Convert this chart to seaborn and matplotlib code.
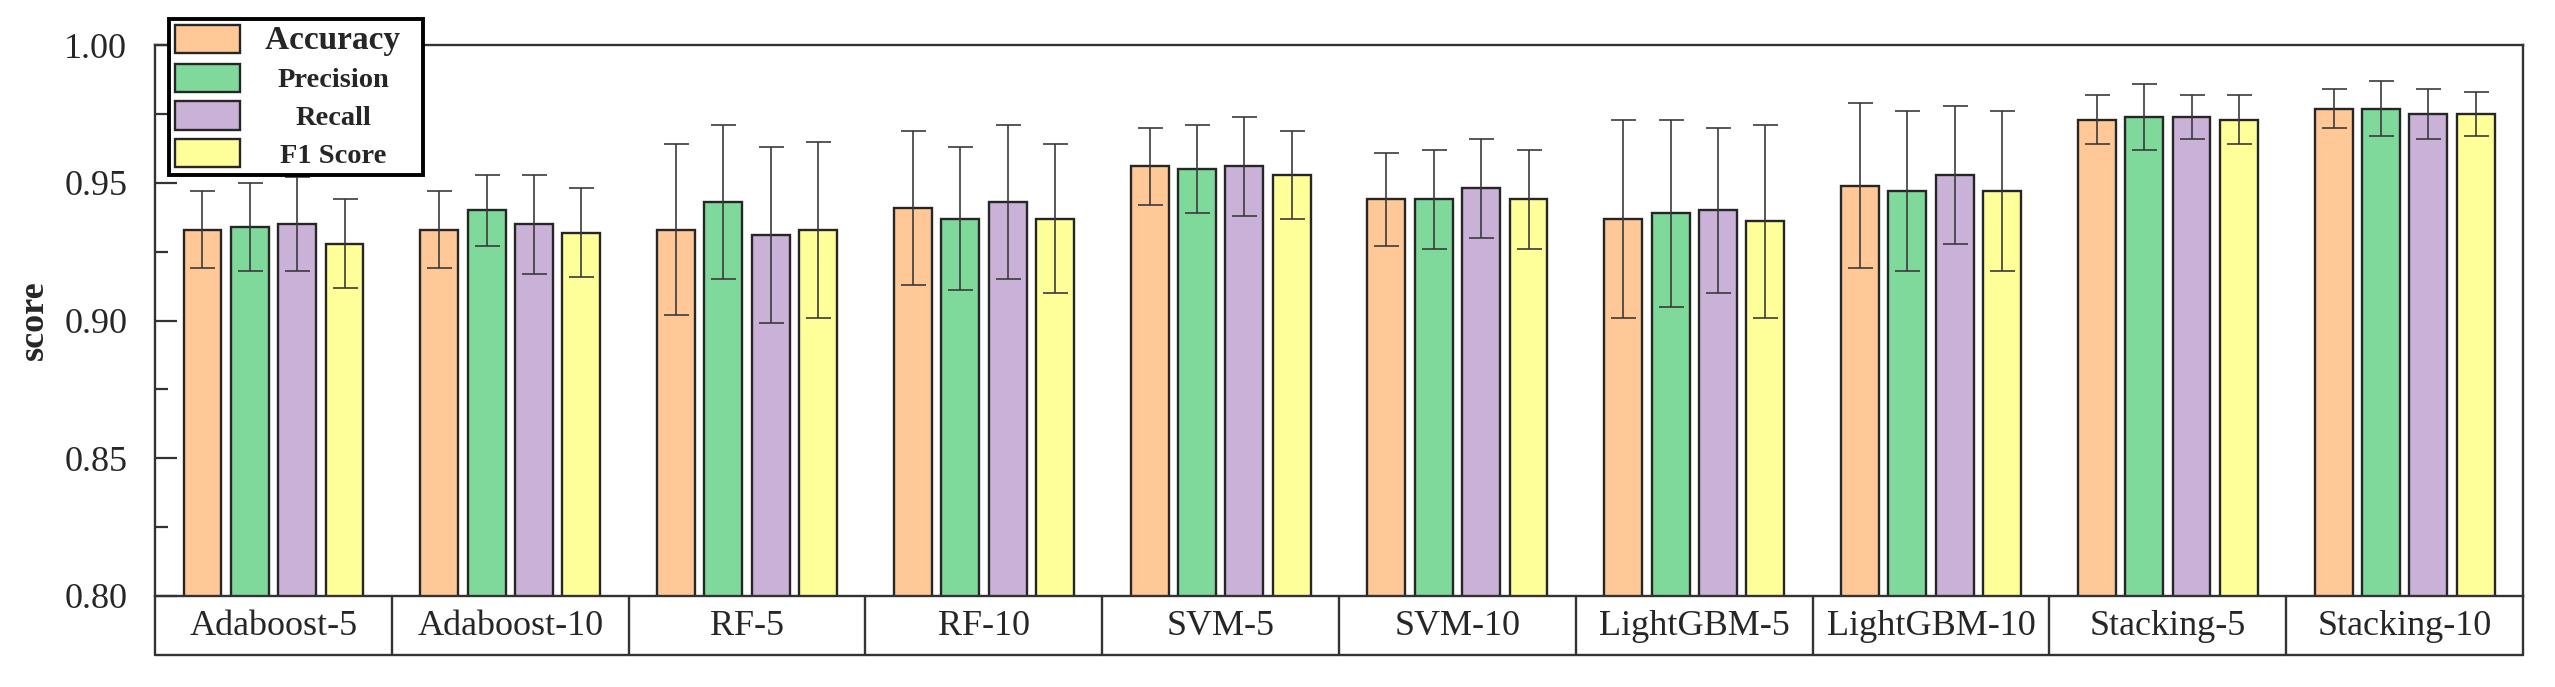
import numpy as np
import pandas as pd
import matplotlib
matplotlib.use("Agg")
import matplotlib.pyplot as plt
import seaborn as sns
from matplotlib.patches import Patch
from matplotlib.ticker import MultipleLocator, FormatStrFormatter

# ---------- Data ----------
models = ["Adaboost-5", "Adaboost-10", "RF-5", "RF-10", "SVM-5", "SVM-10",
          "LightGBM-5", "LightGBM-10", "Stacking-5", "Stacking-10"]
metrics = ["Accuracy", "Precision", "Recall", "F1 Score"]

accuracy  = [0.933, 0.933, 0.933, 0.941, 0.956, 0.944, 0.937, 0.949, 0.973, 0.977]
precision = [0.934, 0.940, 0.943, 0.937, 0.955, 0.944, 0.939, 0.947, 0.974, 0.977]
recall    = [0.935, 0.935, 0.931, 0.943, 0.956, 0.948, 0.940, 0.953, 0.974, 0.975]
f1_score  = [0.928, 0.932, 0.933, 0.937, 0.953, 0.944, 0.936, 0.947, 0.973, 0.975]

acc_err  = [0.014, 0.014, 0.031, 0.028, 0.014, 0.017, 0.036, 0.030, 0.009, 0.007]
prec_err = [0.016, 0.013, 0.028, 0.026, 0.016, 0.018, 0.034, 0.029, 0.012, 0.010]
rec_err  = [0.017, 0.018, 0.032, 0.028, 0.018, 0.018, 0.030, 0.025, 0.008, 0.009]
f1_err   = [0.016, 0.016, 0.032, 0.027, 0.016, 0.018, 0.035, 0.029, 0.009, 0.008]

palette = ["#FFC896", "#7FD99A", "#C9B1D8", "#FFFF99"]

values = [accuracy, precision, recall, f1_score]
errors = [acc_err, prec_err, rec_err, f1_err]

df = pd.DataFrame({
    "Model": models * len(metrics),
    "Metric": np.repeat(metrics, len(models)),
    "score": np.concatenate(values),
})

# ---------- Style ----------
sns.set_style("white")
plt.rcParams["font.family"] = ["Liberation Serif", "DejaVu Serif"]

edge_col = "#262626"

fig = plt.figure(figsize=(25.55, 6.87), dpi=100)
ax = fig.add_axes([0.0607, 0.1325, 0.9268, 0.8016])

sns.barplot(data=df, x="Model", y="score", hue="Metric", order=models,
            hue_order=metrics, palette=palette, errorbar=None, gap=0.2,
            edgecolor=edge_col, linewidth=1.7, saturation=1, legend=False, ax=ax)

# error bars at the bar centres
for cont, err in zip(ax.containers, errors):
    xs = [b.get_x() + b.get_width() / 2 for b in cont]
    ys = [b.get_height() for b in cont]
    ax.errorbar(xs, ys, yerr=err, fmt="none", ecolor="#3a3a3a", elinewidth=1.4,
                capsize=9, capthick=1.4, alpha=0.85, zorder=5)

# ---------- Axes ----------
ax.set_xlim(-0.5, len(models) - 0.5)
ax.set_ylim(0.80, 1.00)
ax.yaxis.set_major_locator(MultipleLocator(0.05))
ax.yaxis.set_minor_locator(MultipleLocator(0.025))
ax.yaxis.set_major_formatter(FormatStrFormatter("%.2f"))
ax.tick_params(axis="y", which="major", direction="in", length=16, width=1.6,
               labelsize=26, pad=20, color="#333333", left=True)
ax.tick_params(axis="y", which="minor", direction="in", length=9, width=1.6,
               color="#333333", left=True)
ax.tick_params(axis="x", length=0, labelsize=26, pad=22)
for t in ax.get_xticklabels():
    t.set_va("center")

for s in ax.spines.values():
    s.set_linewidth(1.7)
    s.set_color("#333333")

ax.set_xlabel("")
ax.set_ylabel("score", fontsize=26, fontweight="bold")
ax.yaxis.set_label_coords(-0.044, 0.5)

# table-like category boxes below the axis
box_bottom = -0.107
trans = ax.get_xaxis_transform()
for xb in np.arange(-0.5, len(models), 1.0):
    ax.plot([xb, xb], [0, box_bottom], transform=trans, color="#333333",
            lw=1.7, clip_on=False)
ax.plot([-0.5, len(models) - 0.5], [box_bottom, box_bottom], transform=trans,
        color="#333333", lw=1.7, clip_on=False)

# ---------- Legend ----------
handles = [Patch(facecolor=c, edgecolor=edge_col, linewidth=1.7)
           for c in palette]
# trailing spaces widen the label column so the text sits mid-box
leg_labels = [metrics[0] + "    "] + metrics[1:]
leg = fig.legend(handles=handles, labels=leg_labels, loc="upper left",
                 bbox_to_anchor=(169 / 2555, 1 - 19 / 687),
                 prop={"weight": "bold", "size": 20.5}, frameon=True,
                 fancybox=False, edgecolor="black", framealpha=1,
                 borderpad=0.2, handlelength=2.3, handleheight=1.15,
                 handletextpad=0.3, labelspacing=0.28, borderaxespad=0)
leg.get_frame().set_linewidth(2.8)
leg.texts[0].set_fontsize(24)

# centre the visible text inside the label column
fig.canvas.draw()
renderer = fig.canvas.get_renderer()
col_w = max(t.get_window_extent(renderer).width for t in leg.texts)
for t in leg.texts:
    vis_w, _, _ = renderer.get_text_width_height_descent(
        t.get_text().strip(), t.get_fontproperties(), ismath=False)
    t.set_position(((col_w - vis_w) / 2, 0))

fig.savefig("out.png", dpi=100)
